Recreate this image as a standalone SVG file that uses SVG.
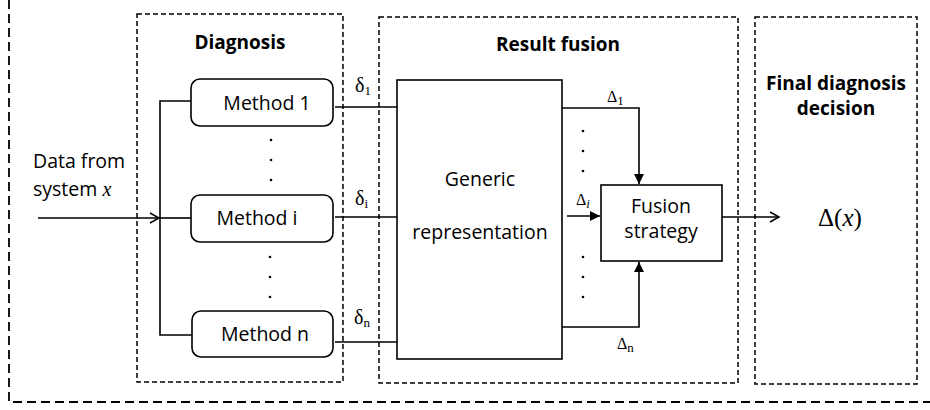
<svg xmlns="http://www.w3.org/2000/svg" width="930" height="410" viewBox="0 0 930 410">
<defs>
<marker id="open" markerWidth="12" markerHeight="12" refX="10" refY="6" orient="auto" markerUnits="userSpaceOnUse">
<path d="M1,1 L10,6 L1,11" fill="none" stroke="#000" stroke-width="1.5"/>
</marker>
<marker id="fill" markerWidth="12" markerHeight="12" refX="10" refY="5" orient="auto" markerUnits="userSpaceOnUse">
<path d="M0,0 L10,5 L0,10 Z" fill="#000"/>
</marker>
<style>
.frame{fill:none;stroke:#000;stroke-width:1.5;stroke-dasharray:5 3}
.outer{fill:none;stroke:#000;stroke-width:1.8;stroke-dasharray:9 5}
.box{fill:#fff;stroke:#000;stroke-width:1.6}
.ln{fill:none;stroke:#000;stroke-width:1.6}
.t{font-family:"Open Sans","Noto Sans",sans-serif;font-size:19.5px;fill:#000}
.b{font-family:"Open Sans","Noto Sans",sans-serif;font-size:19px;font-weight:bold;fill:#000}
.m{font-family:"Liberation Serif","DejaVu Serif",serif;fill:#000}
.s1{font-size:20px}
.s2{font-size:16px}
.sub{font-size:13px}
.big{font-size:25px}
.dot{fill:#000}
</style>
</defs>
<g id="frames">
<path class="outer" d="M9,0 V402 H930"/>
<rect class="frame" x="137" y="14" width="206" height="368"/>
<rect class="frame" x="379" y="17" width="359" height="366"/>
<rect class="frame" x="755" y="17" width="162" height="367"/>
<text class="b" x="240" y="49" text-anchor="middle">Diagnosis</text>
<text class="b" x="558" y="51" text-anchor="middle">Result fusion</text>
<text class="b" x="836" y="90" text-anchor="middle">Final diagnosis</text>
<text class="b" x="836" y="115" text-anchor="middle">decision</text>
</g>
<g id="input">
<text class="t" x="33" y="168">Data from</text>
<text class="t" x="33" y="196">system <tspan class="m s1" font-style="italic">x</tspan></text>
</g>
<g id="method1">
<rect class="box" x="191" y="79" width="142" height="47" rx="9"/>
<text class="t" x="267" y="110" text-anchor="middle">Method 1</text>
</g>
<g id="methodi">
<rect class="box" x="191" y="195" width="142" height="47" rx="9"/>
<text class="t" x="257" y="225" text-anchor="middle">Method i</text>
</g>
<g id="methodn">
<rect class="box" x="192" y="311" width="141" height="46" rx="9"/>
<text class="t" x="265" y="341" text-anchor="middle">Method n</text>
</g>
<g id="generic">
<rect class="box" x="397" y="80" width="165" height="279"/>
<text class="t" x="480" y="186" text-anchor="middle">Generic</text>
<text class="t" x="480" y="239" text-anchor="middle">representation</text>
</g>
<g id="fusion">
<rect class="box" x="601" y="185" width="121" height="76"/>
<text class="t" x="661" y="213" text-anchor="middle">Fusion</text>
<text class="t" x="661" y="238" text-anchor="middle">strategy</text>
</g>
<g id="decision">
<text class="m big" x="818" y="226">Δ(<tspan font-style="italic">x</tspan>)</text>
</g>
<g id="connectors">
<path class="ln" d="M38,218 H159" marker-end="url(#open)"/>
<path class="ln" d="M191,101 H160 V335 H192"/>
<path class="ln" d="M160,218 H191"/>
<path class="ln" d="M335,107 H397"/>
<path class="ln" d="M335,217 H397"/>
<path class="ln" d="M335,342 H397"/>
<path class="ln" d="M562,108 H639 V184" marker-end="url(#fill)"/>
<path class="ln" d="M567,216 H600" marker-end="url(#fill)"/>
<path class="ln" d="M562,327 H639 V262" marker-end="url(#fill)"/>
<path class="ln" d="M722,217 H779" marker-end="url(#open)"/>
</g>
<g id="labels">
<text class="m s1" x="355" y="92">δ<tspan class="sub" dy="3">1</tspan></text>
<text class="m s1" x="355" y="205">δ<tspan class="sub" dy="3">i</tspan></text>
<text class="m s1" x="354" y="324">δ<tspan class="sub" dy="3">n</tspan></text>
<text class="m s2" x="607" y="102">Δ<tspan class="sub" dy="3">1</tspan></text>
<text class="m s2" x="576" y="205">Δ<tspan class="sub" dy="3" font-style="italic">i</tspan></text>
<text class="m s2" x="617" y="349">Δ<tspan class="sub" dy="3">n</tspan></text>
</g>
<g id="dots" class="dot">
<circle cx="271" cy="140" r="1.3"/><circle cx="271" cy="160" r="1.3"/><circle cx="271" cy="180" r="1.3"/>
<circle cx="270" cy="257" r="1.3"/><circle cx="270" cy="277" r="1.3"/><circle cx="270" cy="297" r="1.3"/>
<circle cx="583" cy="131" r="1.3"/><circle cx="583" cy="151" r="1.3"/><circle cx="583" cy="171" r="1.3"/>
<circle cx="583" cy="257" r="1.3"/><circle cx="583" cy="277" r="1.3"/><circle cx="583" cy="297" r="1.3"/>
</g>
</svg>
